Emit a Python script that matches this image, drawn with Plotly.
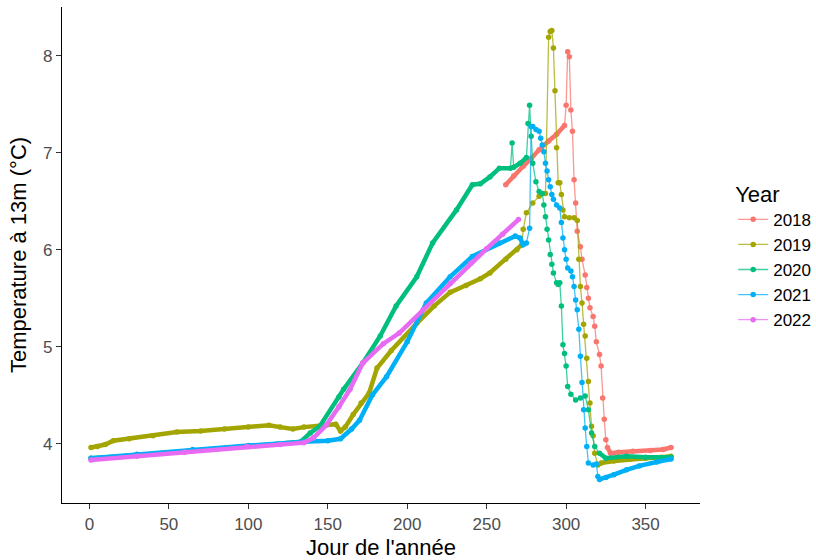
import plotly.graph_objects as go

years = ["2018", "2019", "2020", "2021", "2022"]
colors = ["#F8766D", "#A3A500", "#00BF7D", "#00B0F6", "#E76BF3"]

day_2018 = [262, 267, 273, 278, 283, 289, 294, 299, 300, 301, 302, 303, 304, 305, 306, 307,
            309, 310, 312, 313, 314, 315, 317, 318, 319, 321, 322, 323, 324, 325, 326,
            328, 333, 342, 353, 361, 366]
temp_2018 = [6.67, 6.76, 6.86, 6.94, 7.03, 7.12, 7.19, 7.28, 7.49, 8.04, 7.99, 7.44, 7.22, 6.72, 6.48, 6.19,
             6.03, 5.90, 5.74, 5.61, 5.50, 5.40, 5.31, 5.21, 5.05, 4.92, 4.80, 4.47, 4.25, 4.04, 3.96,
             3.90, 3.91, 3.92, 3.93, 3.94, 3.96]

day_2019 = [1, 5, 10, 15, 25, 40, 55, 70, 85, 100, 113, 120, 128, 135, 145, 155, 158, 161, 166, 171,
            176, 181, 190, 206, 217, 227, 237, 246, 252, 262, 269, 272, 273, 275, 279, 283, 287, 289, 290, 291,
            292, 293, 294, 295, 296, 297, 298, 299, 302, 305, 307, 308, 309, 310, 311, 312, 313, 314, 315, 316,
            317, 318, 320, 322, 330, 340, 350, 360, 366]
temp_2019 = [3.96, 3.97, 3.99, 4.03, 4.05, 4.08, 4.12, 4.13, 4.15, 4.17, 4.19, 4.17, 4.15, 4.17, 4.18, 4.20, 4.13, 4.17, 4.30, 4.42,
             4.52, 4.78, 4.96, 5.24, 5.42, 5.56, 5.63, 5.70, 5.76, 5.90, 6.00, 6.05, 6.21, 6.38, 6.48, 6.55, 6.58, 8.19, 8.25, 8.26,
             8.08, 7.64, 7.05, 6.69, 6.69, 6.57, 6.41, 6.34, 6.33, 6.33, 6.30, 5.90, 5.62, 5.45, 5.23, 5.11, 4.88, 4.64, 4.42, 4.18,
             4.08, 3.90, 3.78, 3.80, 3.82, 3.84, 3.85, 3.86, 3.87]

day_2020 = [1, 30, 65, 100, 133, 139, 145, 157, 160, 172, 183, 193, 206, 216, 231, 241, 246, 252, 258, 265,
            266, 267, 271, 275, 276, 277, 278, 279, 281, 283, 285, 286, 287, 288, 289, 290, 291, 292, 294, 295,
            296, 297, 298, 299, 300, 301, 303, 306, 309, 312, 314, 316, 318, 321, 325, 338, 350, 366]
temp_2020 = [3.85, 3.88, 3.93, 3.97, 4.02, 4.11, 4.18, 4.48, 4.56, 4.83, 5.11, 5.42, 5.72, 6.07, 6.41, 6.67, 6.68, 6.75, 6.84, 6.84,
             7.10, 6.85, 6.89, 6.95, 7.30, 7.49, 7.17, 6.89, 6.70, 6.60, 6.58, 6.46, 6.34, 6.21, 6.10, 5.95, 5.85, 5.76, 5.66, 5.64,
             5.66, 5.42, 5.02, 4.93, 4.80, 4.59, 4.51, 4.45, 4.47, 4.49, 4.35, 4.11, 3.97, 3.90, 3.85, 3.87, 3.86, 3.86]

day_2021 = [1, 30, 65, 100, 135, 150, 158, 165, 170, 178, 187, 200, 212, 227, 241, 258, 268, 271, 273, 275,
            277, 278, 279, 281, 283, 284, 285, 286, 287, 288, 289, 290, 291, 292, 294, 296, 297, 298, 299, 300,
            301, 303, 304, 305, 306, 307, 308, 309, 310, 311, 312, 313, 314, 317, 319, 320, 321, 325, 330, 338,
            346, 357, 366]
temp_2021 = [3.85, 3.89, 3.94, 3.98, 4.02, 4.03, 4.05, 4.15, 4.24, 4.50, 4.69, 5.05, 5.45, 5.72, 5.93, 6.07, 6.14, 6.12, 6.05, 6.07,
             6.22, 7.27, 7.27, 7.24, 7.22, 7.15, 7.08, 7.01, 6.89, 6.81, 6.72, 6.65, 6.57, 6.52, 6.46, 6.43, 6.28, 6.12, 6.00, 5.90,
             5.81, 5.78, 5.72, 5.62, 5.48, 5.38, 5.18, 4.90, 4.63, 4.35, 4.16, 3.97, 3.80, 3.78, 3.79, 3.66, 3.63, 3.65, 3.68, 3.73,
             3.77, 3.81, 3.84]

day_2022 = [1, 30, 60, 99, 120, 135, 141, 149, 157, 164, 172, 185, 195, 210, 227, 240, 250, 260, 270]
temp_2022 = [3.83, 3.87, 3.91, 3.97, 3.99, 4.01, 4.06, 4.19, 4.38, 4.56, 4.83, 5.03, 5.14, 5.38, 5.65, 5.86, 6.01, 6.16, 6.31]

x_ticks = [0, 50, 100, 150, 200, 250, 300, 350]
y_ticks = [4, 5, 6, 7, 8]

# day ranges where daily points are so dense that they merge into a thick band
dense_ranges = {
    "2018": [(262, 299), (326, 366)],
    "2019": [(1, 272), (320, 366)],
    "2020": [(1, 265), (267, 275), (321, 366)],
    "2021": [(1, 275), (321, 366)],
    "2022": [(1, 270)],
}

series = {
    "2018": (day_2018, temp_2018),
    "2019": (day_2019, temp_2019),
    "2020": (day_2020, temp_2020),
    "2021": (day_2021, temp_2021),
    "2022": (day_2022, temp_2022),
}


def hex_to_rgba(h, a):
    h = h.lstrip("#")
    return "rgba(%d,%d,%d,%.2f)" % (int(h[0:2], 16), int(h[2:4], 16), int(h[4:6], 16), a)


fig = go.Figure()
for yr, col in zip(years, colors):
    d, t = series[yr]
    band = [v if any(a <= x <= b for a, b in dense_ranges[yr]) else None for x, v in zip(d, t)]
    fig.add_trace(go.Scatter(x=d, y=band, mode="lines", line=dict(color=col, width=4.5),
                             showlegend=False, hoverinfo="skip", connectgaps=False))
    fig.add_trace(go.Scatter(x=d, y=t, mode="lines+markers", name=yr,
                             line=dict(color=hex_to_rgba(col, 0.75), width=1.3),
                             marker=dict(color=col, size=5.5)))

font_family = "Liberation Sans, Arial, sans-serif"
fig.update_layout(
    width=816, height=560,
    margin=dict(l=62, r=116, t=7, b=57, autoexpand=False),
    paper_bgcolor="white", plot_bgcolor="white",
    font=dict(family=font_family, color="black"),
    showlegend=True,
    legend=dict(
        title=dict(text="Year", font=dict(size=22, color="black")),
        font=dict(size=17, color="black"),
        x=1.052, xanchor="left", y=0.665, yanchor="top",
        bgcolor="rgba(0,0,0,0)", itemwidth=30, tracegroupgap=0,
    ),
)
fig.update_xaxes(
    range=[-17.25, 384.25], tickvals=x_ticks, ticktext=[str(v) for v in x_ticks],
    showgrid=False, zeroline=False, showline=True, linecolor="black", linewidth=1.3,
    ticks="outside", ticklen=5, tickwidth=1.2, tickcolor="#333333",
    tickfont=dict(size=17, color="#4D4D4D"), automargin=False,
    title=dict(text="Jour de l'année", font=dict(size=22, color="black"), standoff=7),
)
fig.update_yaxes(
    range=[3.3875, 8.5025], tickvals=y_ticks, ticktext=[str(v) for v in y_ticks],
    showgrid=False, zeroline=False, showline=True, linecolor="black", linewidth=1.3,
    ticks="outside", ticklen=5, tickwidth=1.2, tickcolor="#333333",
    tickfont=dict(size=17, color="#4D4D4D"), automargin=False,
    title=dict(text="Temperature à 13m (°C)", font=dict(size=22, color="black"), standoff=10),
)

fig.write_html("out.html",
               config={"displayModeBar": False},
               post_script="document.body.style.margin='0';document.body.style.padding='0';")
